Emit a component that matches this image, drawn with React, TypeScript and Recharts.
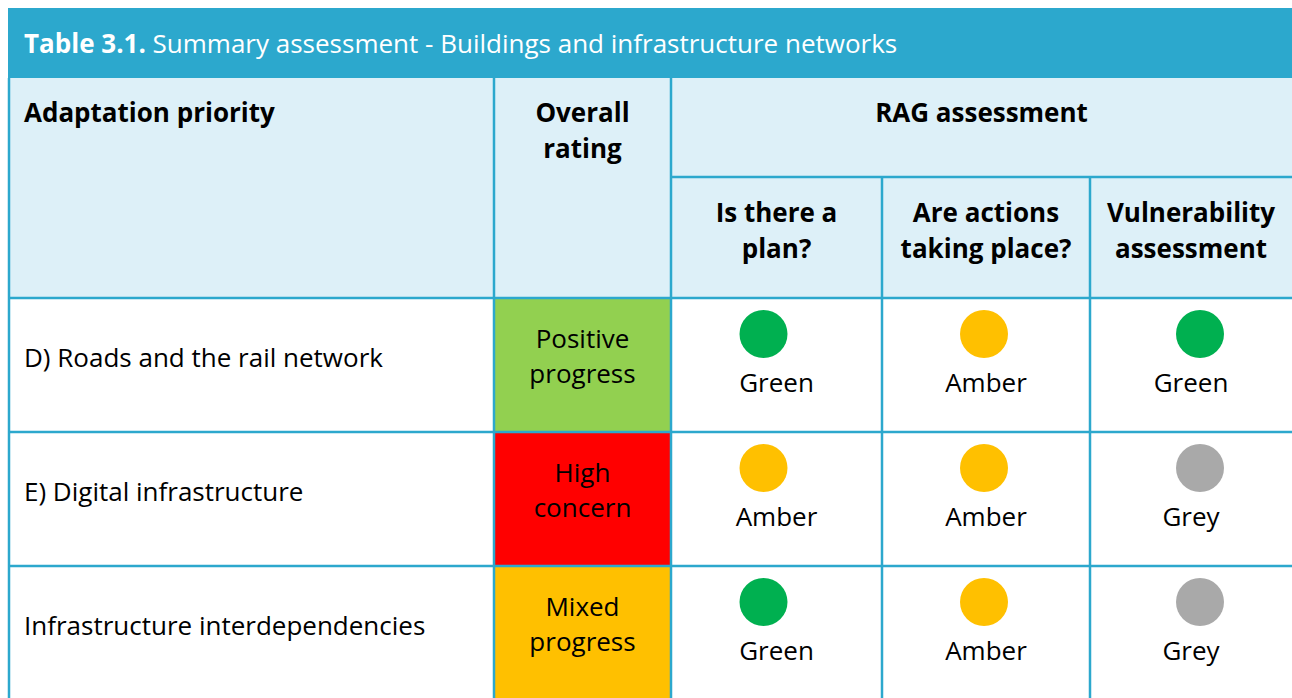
import React from "react";
import {
  ScatterChart,
  Scatter,
  XAxis,
  YAxis,
  ReferenceArea,
  ReferenceLine,
} from "recharts";

// ---------- data ----------
const titleBold = "Table 3.1.";
const titleRest = " Summary assessment - Buildings and infrastructure networks";

const rowLabels = [
  "D) Roads and the rail network",
  "E) Digital infrastructure",
  "Infrastructure interdependencies",
];
const overallRatings = ["Positive progress", "High concern", "Mixed progress"];
const planStatus = ["Green", "Amber", "Green"];
const actionStatus = ["Amber", "Amber", "Amber"];
const vulnerabilityStatus = ["Green", "Grey", "Grey"];

const headerPriority = "Adaptation priority";
const headerOverall = ["Overall", "rating"];
const headerRag = "RAG assessment";
const ragColumnHeaders = [
  ["Is there a", "plan?"],
  ["Are actions", "taking place?"],
  ["Vulnerability", "assessment"],
];

// ---------- styles / layout ----------
const W = 1292;
const H = 698;
const FONT = "'Open Sans', 'Noto Sans', sans-serif";
const BODY_SIZE = 26;
const BOLD_SIZE = 26;
const LINE = "#2CA8CD";
const TITLE_BG = "#2CA8CD";
const HEADER_BG = "#DDF0F8";
const ratingColors: Record<string, string> = {
  "Positive progress": "#92D050",
  "High concern": "#FF0000",
  "Mixed progress": "#FFC000",
};
const statusColors: Record<string, string> = {
  Green: "#00B050",
  Amber: "#FFC000",
  Grey: "#A9A9A9",
};

const LEFT = 9;
const colEdges = [LEFT, 494, 671, 882, 1090, W];
const titleTop = 8;
const titleBottom = 78;
const subHeaderLine = 177;
const headerBottom = 298;
const rowHeight = 134;
const rowTops = rowLabels.map((_, i) => headerBottom + i * rowHeight);

const ratingCenter = (colEdges[1] + colEdges[2]) / 2;
const ragCenters = [
  (colEdges[2] + colEdges[3]) / 2,
  (colEdges[3] + colEdges[4]) / 2,
  (colEdges[4] + colEdges[5]) / 2,
];
const circleOffsets = [-13, -2, 9];
const ragColumns = [planStatus, actionStatus, vulnerabilityStatus];

// ---------- derived point tables ----------
type TextPt = {
  x: number;
  y: number;
  text: string;
  bold?: boolean;
  anchor?: "start" | "middle" | "end";
};

const textPoints: TextPt[] = [];
// header texts
textPoints.push({ x: 24, y: 122, text: headerPriority, bold: true, anchor: "start" });
headerOverall.forEach((t, i) =>
  textPoints.push({ x: ratingCenter, y: 122 + i * 36, text: t, bold: true, anchor: "middle" })
);
textPoints.push({ x: (colEdges[2] + colEdges[5]) / 2, y: 122, text: headerRag, bold: true, anchor: "middle" });
ragColumnHeaders.forEach((lines, c) =>
  lines.forEach((t, i) =>
    textPoints.push({ x: ragCenters[c], y: 222 + i * 36, text: t, bold: true, anchor: "middle" })
  )
);
// body texts
rowLabels.forEach((label, r) => {
  const top = rowTops[r];
  textPoints.push({ x: 24, y: top + 69, text: label, anchor: "start" });
  const words = overallRatings[r].split(" ");
  words.forEach((w, i) =>
    textPoints.push({ x: ratingCenter, y: top + 50 + i * 35, text: w, anchor: "middle" })
  );
  ragColumns.forEach((col, c) =>
    textPoints.push({ x: ragCenters[c], y: top + 94, text: col[r], anchor: "middle" })
  );
});

const circlePoints = rowLabels.flatMap((_, r) =>
  ragColumns.map((col, c) => ({
    x: ragCenters[c] + circleOffsets[c],
    y: rowTops[r] + 36,
    status: col[r],
  }))
);

const TextShape = (props: any) => {
  const { cx, cy, payload } = props;
  if (cx == null || cy == null) return null;
  return (
    <text
      x={cx}
      y={cy}
      textAnchor={payload.anchor || "start"}
      fontFamily={FONT}
      fontWeight={payload.bold ? 700 : 400}
      fontSize={payload.bold ? BOLD_SIZE : BODY_SIZE}
      fill="#000"
    >
      {payload.text}
    </text>
  );
};

const TitleShape = (props: any) => {
  const { cx, cy } = props;
  if (cx == null || cy == null) return null;
  return (
    <text x={cx} y={cy} fontFamily={FONT} fontSize={26} fill="#fff">
      <tspan fontWeight={700}>{titleBold}</tspan>
      <tspan fontWeight={400}>{titleRest}</tspan>
    </text>
  );
};

const CircleShape = (props: any) => {
  const { cx, cy, payload } = props;
  if (cx == null || cy == null) return null;
  return <circle cx={cx} cy={cy} r={24} fill={statusColors[payload.status]} />;
};

const seg = (x1: number, y1: number, x2: number, y2: number) => [
  { x: x1, y: y1 },
  { x: x2, y: y2 },
];

export default function App() {
  return (
    <div style={{ position: "absolute", left: 0, top: 0, background: "#fff" }}>
      <ScatterChart width={W} height={H} margin={{ top: 0, right: 0, bottom: 0, left: 0 }}>
        <XAxis type="number" dataKey="x" domain={[0, W]} hide allowDataOverflow />
        <YAxis type="number" dataKey="y" domain={[0, H]} reversed hide allowDataOverflow />

        <ReferenceArea x1={LEFT - 1} x2={W} y1={titleTop} y2={titleBottom} fill={TITLE_BG} fillOpacity={1} stroke="none" ifOverflow="visible" />
        <ReferenceArea x1={LEFT} x2={W} y1={titleBottom} y2={headerBottom} fill={HEADER_BG} fillOpacity={1} stroke="none" ifOverflow="visible" />
        {rowTops.map((top, r) => (
          <ReferenceArea
            key={"rating" + r}
            x1={colEdges[1]}
            x2={colEdges[2]}
            y1={top}
            y2={top + rowHeight}
            fill={ratingColors[overallRatings[r]]}
            fillOpacity={1}
            stroke="none"
            ifOverflow="visible"
          />
        ))}

        {/* grid lines */}
        <ReferenceLine segment={seg(LEFT, titleBottom, LEFT, H)} stroke={LINE} strokeWidth={2.5} ifOverflow="visible" />
        <ReferenceLine segment={seg(colEdges[1], titleBottom, colEdges[1], H)} stroke={LINE} strokeWidth={2.5} ifOverflow="visible" />
        <ReferenceLine segment={seg(colEdges[2], titleBottom, colEdges[2], H)} stroke={LINE} strokeWidth={2.5} ifOverflow="visible" />
        <ReferenceLine segment={seg(colEdges[3], subHeaderLine, colEdges[3], H)} stroke={LINE} strokeWidth={2.5} ifOverflow="visible" />
        <ReferenceLine segment={seg(colEdges[4], subHeaderLine, colEdges[4], H)} stroke={LINE} strokeWidth={2.5} ifOverflow="visible" />
        <ReferenceLine segment={seg(colEdges[2], subHeaderLine, W, subHeaderLine)} stroke={LINE} strokeWidth={2.5} ifOverflow="visible" />
        {rowTops.map((top, r) => (
          <ReferenceLine key={"h" + r} segment={seg(LEFT, top, W, top)} stroke={LINE} strokeWidth={2.5} ifOverflow="visible" />
        ))}

        <Scatter data={circlePoints} shape={CircleShape} isAnimationActive={false} />
        <Scatter data={[{ x: 24, y: 53 }]} shape={TitleShape} isAnimationActive={false} />
        <Scatter data={textPoints} shape={TextShape} isAnimationActive={false} />
      </ScatterChart>
    </div>
  );
}
